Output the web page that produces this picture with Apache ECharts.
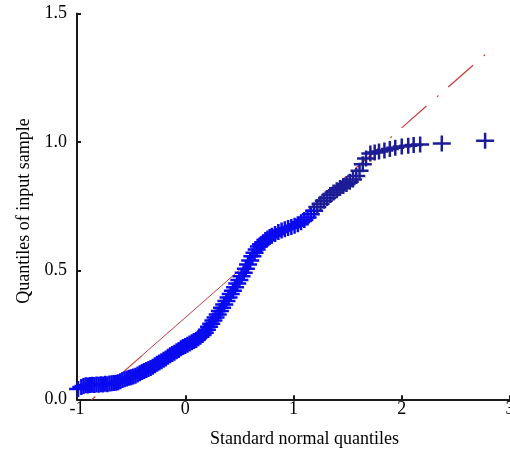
<!DOCTYPE html>
<html>
<head>
<meta charset="utf-8">
<script src="https://cdn.jsdelivr.net/npm/echarts@6/dist/echarts.min.js"></script>
<style>
html,body{margin:0;padding:0;background:#fff;}
#c{width:510px;height:452px;}
</style>
</head>
<body>
<div id="c"></div>
<script>
// Sample points (standard normal quantile, sample quantile) – dense part of the band
var xBand = [-0.99,-0.96,-0.94,-0.92,-0.90,-0.88,-0.86,-0.84,-0.82,-0.80,-0.78,-0.76,-0.74,-0.72,-0.70,-0.68,-0.66,-0.64,-0.62,-0.60,
  -0.58,-0.56,-0.54,-0.52,-0.50,-0.48,-0.46,-0.44,-0.42,-0.40,-0.38,-0.36,-0.34,-0.32,-0.30,-0.28,-0.26,-0.24,-0.22,-0.20,
  -0.18,-0.16,-0.14,-0.12,-0.10,-0.08,-0.06,-0.04,-0.02,0.00,0.02,0.04,0.06,0.08,0.10,0.12,0.14,0.16,0.18,0.20,
  0.22,0.24,0.26,0.28,0.30,0.32,0.34,0.36,0.38,0.40,0.42,0.44,0.46,0.48,0.50,0.52,0.54,0.56,0.58,0.60,
  0.62,0.64,0.66,0.68,0.70,0.72,0.74,0.76,0.78,0.80,0.83,0.86,0.89,0.92,0.95,0.98,1.01,1.04,1.07,1.10,1.13,1.16,1.19];
var yBand = [0.040,0.048,0.052,0.055,0.054,0.056,0.057,0.056,0.058,0.057,0.059,0.058,0.060,0.059,0.061,0.062,0.063,0.064,0.066,0.070,
  0.075,0.078,0.081,0.084,0.086,0.089,0.092,0.096,0.101,0.106,0.110,0.114,0.118,0.122,0.127,0.132,0.138,0.143,0.148,0.154,
  0.159,0.165,0.171,0.176,0.181,0.187,0.192,0.198,0.203,0.207,0.212,0.217,0.222,0.227,0.231,0.237,0.243,0.250,0.259,0.270,
  0.282,0.294,0.306,0.318,0.330,0.343,0.356,0.369,0.382,0.396,0.409,0.422,0.436,0.450,0.464,0.478,0.492,0.508,0.524,0.540,
  0.556,0.570,0.582,0.594,0.603,0.611,0.619,0.625,0.631,0.636,0.643,0.650,0.656,0.661,0.666,0.670,0.675,0.681,0.688,0.697,0.707,0.719,0.733];
// Upper, sparser part of the sample
var xTail = [1.22,1.25,1.28,1.31,1.34,1.37,1.40,1.43,1.46,1.49,1.52,1.55,1.58,1.61,1.64,1.67,1.71,1.75,1.79,1.84,1.89,1.94,2.00,2.06,2.11,2.17,2.37,2.77];
var yTail = [0.748,0.760,0.772,0.783,0.794,0.804,0.813,0.822,0.829,0.837,0.846,0.855,0.868,0.889,0.914,0.936,0.956,0.960,0.963,0.967,0.973,0.978,0.983,0.986,0.989,0.991,0.995,1.005];
// Reference line: solid middle part and dash-dot extensions
var refSolidX = [-0.40, 0.80];
var refSolidY = [0.170, 0.613];
var refUpperX = [2.77, 0.80];
var refUpperY = [1.340, 0.613];
var refLowerX = [-0.40, -0.99];
var refLowerY = [0.170, -0.048];
var xTicks = ['-1','0','1','2','3'];
var yTicks = ['0.0','0.5','1.0','1.5'];

function pairs(xs, ys){ return xs.map(function(v,i){ return [v, ys[i]]; }); }
var plus = 'path://M7.75,0h2.5v16h-2.5z M0,6.75h18v2.5h-18z';
var font = 'Liberation Serif';
var chart = echarts.init(document.getElementById('c'), null, {renderer:'canvas'});
chart.setOption({
  animation:false,
  backgroundColor:'#fff',
  grid:{left:77, right:0, top:13.5, bottom:52.7, containLabel:false, outerBoundsMode:'none'},
  xAxis:{
    type:'value', min:-1, max:3, interval:1,
    name:'Standard normal quantiles', nameLocation:'middle', nameGap:31,
    nameTextStyle:{fontFamily:font, fontSize:18, color:'#000', padding:[0,0,0,22]},
    axisLine:{onZero:false, lineStyle:{color:'#1a1a1a', width:2}},
    axisTick:{inside:true, length:4, lineStyle:{color:'#1a1a1a', width:2}},
    axisLabel:{fontFamily:font, fontSize:18, color:'#000', margin:1,
      formatter:function(v){ return xTicks[Math.round(v+1)]; }},
    splitLine:{show:false}
  },
  yAxis:{
    type:'value', min:0, max:1.5, interval:0.5,
    name:'Quantiles of input sample', nameLocation:'middle', nameGap:44,
    nameTextStyle:{fontFamily:font, fontSize:18, color:'#000', padding:[0,9,0,0]},
    axisLine:{show:true, onZero:false, lineStyle:{color:'#1a1a1a', width:2}},
    axisTick:{show:true, inside:true, length:4, lineStyle:{color:'#1a1a1a', width:2}},
    axisLabel:{fontFamily:font, fontSize:18, color:'#000', margin:10,
      formatter:function(v){ return yTicks[Math.round(v*2)]; }},
    splitLine:{show:false}
  },
  series:[
    {type:'line', data:pairs(refSolidX, refSolidY), symbol:'none', z:1,
      lineStyle:{color:'#c83a3a', width:1}},
    {type:'line', data:pairs(refUpperX, refUpperY), symbol:'none', z:1,
      lineStyle:{color:'#c83a3a', width:1.2, type:[2,14,33,13]}},
    {type:'line', data:pairs(refLowerX, refLowerY), symbol:'none', z:1,
      lineStyle:{color:'#c83a3a', width:1.2, type:[33,13,2,14]}},
    {type:'scatter', data:pairs(xBand, yBand), symbol:plus, symbolSize:[18,16], z:3,
      itemStyle:{color:'#0a0af0', opacity:1}},
    {type:'scatter', data:pairs(xTail, yTail), symbol:plus, symbolSize:[18,16], z:3,
      itemStyle:{color:'#1c1c96', opacity:1}}
  ]
});
</script>
</body>
</html>
